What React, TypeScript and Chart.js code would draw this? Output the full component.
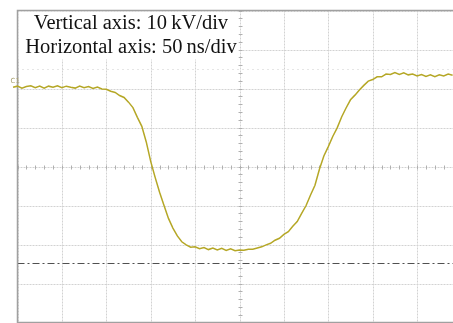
import React, { useEffect, useRef } from "react";
import { Chart, registerables } from "chart.js";

Chart.register(...registerables);

// time in divisions (50 ns/div), value in divisions (10 kV/div)
const timeDiv = [
  -0.1, 0.0, 0.1, 0.2, 0.3, 0.4, 0.5, 0.6, 0.7, 0.8, 0.9, 1.0, 1.1, 1.2, 1.3, 1.4, 1.5, 1.6, 1.7, 1.8, 1.9,
  2.0, 2.1, 2.2, 2.3, 2.4, 2.5, 2.6, 2.7, 2.8, 2.9, 3.0, 3.1, 3.2, 3.3, 3.4, 3.5, 3.6, 3.7, 3.8, 3.9,
  4.0, 4.1, 4.2, 4.3, 4.4, 4.5, 4.6, 4.7, 4.8, 4.9, 5.0, 5.1, 5.2, 5.3, 5.4, 5.5, 5.6, 5.7, 5.8, 5.9,
  6.0, 6.1, 6.2, 6.3, 6.4, 6.5, 6.6, 6.7, 6.8, 6.9, 7.0, 7.1, 7.2, 7.3, 7.4, 7.5, 7.6, 7.7, 7.8, 7.9,
  8.0, 8.1, 8.2, 8.3, 8.4, 8.5, 8.6, 8.7, 8.8, 8.9, 9.0, 9.1, 9.2, 9.3, 9.4, 9.5, 9.6, 9.7, 9.8,
];
const voltageDiv = [
  2.03, 2.06, 2.01, 2.05, 2.07, 2.02, 2.06, 2.01, 2.06, 2.03, 2.07, 2.02, 2.06, 2.03, 2.01, 2.06, 2.02, 2.05, 2.0, 2.04, 1.99,
  1.98, 1.93, 1.9, 1.82, 1.77, 1.65, 1.51, 1.26, 1.03, 0.63, 0.13, -0.28, -0.66, -1.0, -1.33, -1.58, -1.78, -1.93, -2.01, -2.07,
  -2.06, -2.11, -2.08, -2.13, -2.09, -2.14, -2.1, -2.15, -2.11, -2.16, -2.14, -2.15, -2.12, -2.12, -2.09, -2.06, -2.01, -1.97, -1.89, -1.84,
  -1.74, -1.67, -1.53, -1.41, -1.2, -1.0, -0.73, -0.48, -0.07, 0.27, 0.51, 0.77, 0.99, 1.27, 1.5, 1.71, 1.83, 1.96, 2.08, 2.19,
  2.23, 2.3, 2.3, 2.37, 2.36, 2.41, 2.36, 2.4, 2.35, 2.37, 2.32, 2.36, 2.31, 2.35, 2.3, 2.35, 2.32, 2.37, 2.34,
];
const referenceLevelDiv = -2.47;
const cursorLevelDiv = 2.49;
const xDivisions = [0, 1, 2, 3, 4, 5, 6, 7, 8, 9, 10];
const yDivisions = [-4, -3, -2, -1, 0, 1, 2, 3, 4];
const annotationLines = ["Vertical axis: 10\u2009kV/div", "Horizontal axis: 50\u2009ns/div"];
const channelLabel = "C1";

const scopePlugin = {
  id: "scope",
  beforeDatasetsDraw(chart: any) {
    const { ctx, chartArea: a, scales } = chart;
    const xs = scales.x;
    const ys = scales.y;
    ctx.save();
    // grid
    ctx.strokeStyle = "#d2d2d2";
    ctx.lineWidth = 1;
    ctx.setLineDash([2, 1]);
    for (const v of xDivisions) {
      const px = Math.round(xs.getPixelForValue(v)) + 0.5;
      ctx.beginPath();
      ctx.moveTo(px, a.top);
      ctx.lineTo(px, a.bottom);
      ctx.stroke();
    }
    for (const v of yDivisions) {
      const py = Math.round(ys.getPixelForValue(v)) + 0.5;
      ctx.beginPath();
      ctx.moveTo(a.left, py);
      ctx.lineTo(a.right, py);
      ctx.stroke();
    }
    ctx.setLineDash([]);
    // minor ticks on centre cross
    ctx.strokeStyle = "#b0b0b0";
    const cx = Math.round(xs.getPixelForValue(5)) + 0.5;
    const cy = Math.round(ys.getPixelForValue(0)) + 0.5;
    for (let i = 0; i <= 50; i++) {
      const px = Math.round(xs.getPixelForValue(i * 0.2)) + 0.5;
      ctx.beginPath();
      ctx.moveTo(px, cy - 2);
      ctx.lineTo(px, cy + 2);
      ctx.stroke();
    }
    for (let i = 0; i <= 40; i++) {
      const py = Math.round(ys.getPixelForValue(-4 + i * 0.2)) + 0.5;
      ctx.beginPath();
      ctx.moveTo(cx - 2, py);
      ctx.lineTo(cx + 2, py);
      ctx.stroke();
    }
    // cursor dotted line
    ctx.strokeStyle = "#cccccc";
    ctx.setLineDash([1, 4]);
    const cur = Math.round(ys.getPixelForValue(cursorLevelDiv)) + 0.5;
    ctx.beginPath();
    ctx.moveTo(a.left, cur);
    ctx.lineTo(a.right, cur);
    ctx.stroke();
    // reference dash-dot line
    ctx.strokeStyle = "#505050";
    ctx.lineWidth = 1.2;
    ctx.setLineDash([7, 3, 2, 3]);
    const ref = Math.round(ys.getPixelForValue(referenceLevelDiv)) + 0.5;
    ctx.beginPath();
    ctx.moveTo(a.left, ref);
    ctx.lineTo(a.right, ref);
    ctx.stroke();
    ctx.setLineDash([]);
    // annotation box
    ctx.fillStyle = "#ffffff";
    ctx.fillRect(a.left + 1, a.top + 1, cx - a.left - 3, 48);
    ctx.fillStyle = "#111111";
    ctx.font = '20.5px "Liberation Serif", "Times New Roman", serif';
    ctx.textAlign = "center";
    ctx.textBaseline = "alphabetic";
    const tx = xs.getPixelForValue(2.556);
    ctx.fillText(annotationLines[0], tx, a.top + 18.5);
    ctx.fillText(annotationLines[1], tx, a.top + 42);
    // border
    ctx.strokeStyle = "#a0a0a0";
    ctx.lineWidth = 1.5;
    ctx.strokeRect(a.left, a.top, a.right - a.left, a.bottom - a.top);
    // channel label
    ctx.fillStyle = "#a8a070";
    ctx.font = '7px "DejaVu Sans", sans-serif';
    ctx.textAlign = "left";
    ctx.textBaseline = "middle";
    ctx.fillText(channelLabel, a.left - 7, ys.getPixelForValue(2.2));
    ctx.restore();
  },
};

export default function App() {
  const ref = useRef<HTMLCanvasElement | null>(null);
  useEffect(() => {
    const canvas = ref.current;
    if (!canvas) return;
    const chart = new Chart(canvas, {
      type: "line",
      data: {
        datasets: [
          {
            data: timeDiv.map((t, i) => ({ x: t, y: voltageDiv[i] })),
            borderColor: "#b5a726",
            borderWidth: 1.5,
            pointRadius: 0,
            tension: 0,
            clip: false as any,
          },
        ],
      },
      options: {
        responsive: false,
        animation: false,
        devicePixelRatio: 1,
        layout: { padding: { left: 17.5, top: 10.5, right: 8.5, bottom: 0.5 } },
        plugins: { legend: { display: false }, tooltip: { enabled: false } },
        scales: {
          x: { type: "linear", min: 0, max: 10, display: false },
          y: { type: "linear", min: -4, max: 4, display: false },
        },
      },
      plugins: [scopePlugin],
    });
    return () => chart.destroy();
  }, []);
  return (
    <div
      style={{
        position: "fixed",
        left: 0,
        top: 0,
        width: 453,
        height: 323,
        overflow: "hidden",
        background: "#ffffff",
      }}
    >
      <canvas ref={ref} width={470} height={323} style={{ display: "block", width: 470, height: 323 }} />
    </div>
  );
}
